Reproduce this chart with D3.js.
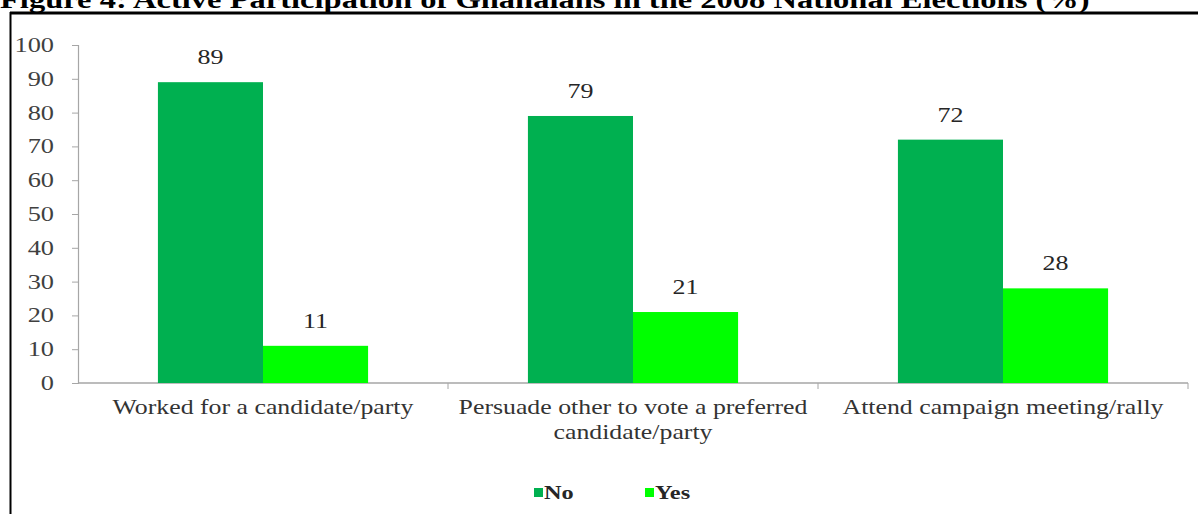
<!DOCTYPE html>
<html>
<head>
<meta charset="utf-8">
<script src="https://cdn.jsdelivr.net/npm/d3@7"></script>
<style>
  html, body { margin: 0; padding: 0; background: #fff; }
  svg { display: block; }
</style>
</head>
<body>
<svg id="chart" width="1198" height="514"></svg>
<script>
// Data
const categories = [
  ["Worked for a candidate/party"],
  ["Persuade other to vote a preferred", "candidate/party"],
  ["Attend campaign meeting/rally"]
];
const seriesNames = ["No", "Yes"];
const noValues = [89, 79, 72];
const yesValues = [11, 21, 28];
const yTicks = [0, 10, 20, 30, 40, 50, 60, 70, 80, 90, 100];
const titleText = "Figure 4: Active Participation of Ghanaians in the 2008 National Elections (%)";

const colors = { No: "#00b050", Yes: "#00ff00" };
const serif = "'Liberation Serif', 'Times New Roman', serif";

const svg = d3.select("#chart");
const W = 1198, H = 514;

// Places a text at (x, y) with its glyphs widened horizontally by sx
function placeStretched(sel, x, y, sx) {
  sel.attr("x", 0).attr("y", 0)
     .attr("transform", function(d, i) {
       const xx = typeof x === "function" ? x(d, i) : x;
       const yy = typeof y === "function" ? y(d, i) : y;
       return `translate(${xx},${yy}) scale(${sx},1)`;
     });
}

// Title (sits above the frame, partly clipped by the top edge)
const title = svg.append("text")
  .attr("font-family", serif)
  .attr("font-weight", "bold")
  .attr("font-size", 25)
  .attr("fill", "#000")
  .text(titleText);
const titleLen = title.node().getComputedTextLength();
title.attr("transform", `translate(0,8) scale(${1090 / titleLen},1)`);

// Frame lines
svg.append("line").attr("x1", 10).attr("x2", W).attr("y1", 13).attr("y2", 13)
  .attr("stroke", "#000").attr("stroke-width", 3);
svg.append("line").attr("x1", 10.5).attr("x2", 10.5).attr("y1", 12).attr("y2", H)
  .attr("stroke", "#000").attr("stroke-width", 2);

// Plot area
const plot = { left: 78, right: 1188, top: 45, bottom: 383 };

const x0 = d3.scaleBand()
  .domain(d3.range(categories.length))
  .range([plot.left, plot.right])
  .padding(0);

// each pair of bars fills the middle ~57% of its category band
const x1 = d3.scaleBand()
  .domain(seriesNames)
  .range([x0.bandwidth() * 0.216, x0.bandwidth() * 0.784])
  .padding(0);

const y = d3.scaleLinear().domain([0, 100]).range([plot.bottom, plot.top]);

// Y axis
const tickSX = 1.32;
const yAxis = d3.axisLeft(y).tickValues(yTicks).tickSize(6).tickPadding(18).tickFormat(d3.format("d"));
const gy = svg.append("g").attr("transform", `translate(${plot.left},0)`).call(yAxis);
gy.select(".domain").attr("stroke", "#a6a6a6").attr("stroke-width", 1.2);
gy.selectAll(".tick line").attr("stroke", "#a6a6a6");
gy.selectAll(".tick text")
  .attr("font-family", serif).attr("font-size", 20).attr("fill", "#404040")
  .each(function() {
    const t = d3.select(this);
    const tx = +t.attr("x");
    t.attr("x", tx / tickSX).attr("transform", `scale(${tickSX},1)`);
  });

// X axis baseline with category dividers
svg.append("line")
  .attr("x1", plot.left).attr("x2", plot.right)
  .attr("y1", y(0)).attr("y2", y(0))
  .attr("stroke", "#a6a6a6").attr("stroke-width", 1.5);
const dividers = d3.range(1, categories.length).map(i => x0(i)).concat([plot.right]);
svg.selectAll(".divider").data(dividers).join("line")
  .attr("class", "divider")
  .attr("x1", d => d).attr("x2", d => d)
  .attr("y1", y(0)).attr("y2", y(0) + 6)
  .attr("stroke", "#a6a6a6");

// Bars
const rows = categories.map((c, i) => ({ i, No: noValues[i], Yes: yesValues[i] }));
const groups = svg.selectAll(".grp").data(rows).join("g")
  .attr("class", "grp")
  .attr("transform", d => `translate(${x0(d.i)},0)`);

groups.selectAll("rect").data(d => seriesNames.map(k => ({ key: k, value: d[k] }))).join("rect")
  .attr("x", d => x1(d.key))
  .attr("width", x1.bandwidth())
  .attr("y", d => y(d.value))
  .attr("height", d => y(0) - y(d.value))
  .attr("fill", d => colors[d.key]);

// Value labels
groups.selectAll("text.val").data(d => seriesNames.map(k => ({ key: k, value: d[k] }))).join("text")
  .attr("class", "val")
  .attr("text-anchor", "middle")
  .attr("font-family", serif).attr("font-size", 20).attr("fill", "#262626")
  .text(d => d.value)
  .call(placeStretched, d => x1(d.key) + x1.bandwidth() / 2, d => y(d.value) - 18, 1.3);

// Category labels
categories.forEach((lines, i) => {
  svg.selectAll(null).data(lines).join("text")
    .attr("class", "cat")
    .attr("text-anchor", "middle")
    .attr("font-family", serif).attr("font-size", 20).attr("fill", "#333")
    .text(d => d)
    .call(placeStretched, x0(i) + x0.bandwidth() / 2, (d, j) => 414 + j * 25, 1.29);
});

// Legend
const legendItems = [{ key: "No", x: 534 }, { key: "Yes", x: 645 }];
const lg = svg.selectAll(".lg").data(legendItems).join("g").attr("class", "lg")
  .attr("transform", d => `translate(${d.x},488)`);
lg.append("rect").attr("width", 9).attr("height", 9).attr("fill", d => colors[d.key]);
lg.append("text")
  .attr("font-family", serif).attr("font-weight", "bold").attr("font-size", 19).attr("fill", "#262626")
  .text(d => d.key)
  .call(placeStretched, 10, 11, 1.28);
</script>
</body>
</html>
